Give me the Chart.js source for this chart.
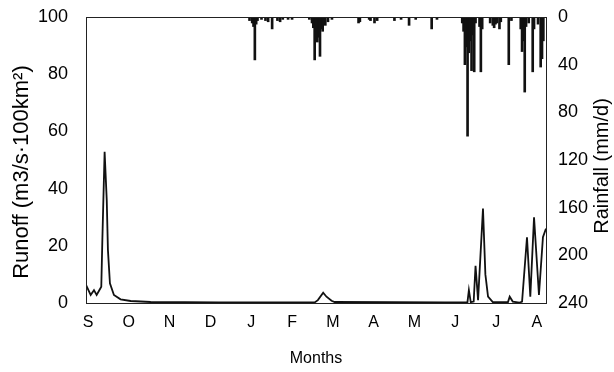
<!DOCTYPE html>
<html>
<head>
<meta charset="utf-8">
<script src="https://cdn.jsdelivr.net/npm/chart.js@4"></script>
<style>
  html, body { margin: 0; padding: 0; background: #fff; }
  #wrap { width: 614px; height: 372px; }
</style>
</head>
<body>
<div id="wrap"><canvas id="hydroChart" width="614" height="372"></canvas></div>
<script>
// month letters on the x axis (Sept -> Aug)
const monthLabels = ['S', 'O', 'N', 'D', 'J', 'F', 'M', 'A', 'M', 'J', 'J', 'A'];
const runoffTicks = [0, 20, 40, 60, 80, 100];
const rainTicks = [0, 40, 80, 120, 160, 200, 240];

// runoff hydrograph, vertices (day since start, value)
const runoffDays = [0, 3.5, 6, 8, 9.8, 11.5, 12.3, 14, 15.6, 16.5, 18, 21, 26, 33.6, 48.6,
  100, 150, 172, 174.4, 178.4, 180.9, 184.7, 187, 230, 270, 286.9, 288, 289.4, 291.6, 293,
  294.9, 298.6, 300.4, 302.4, 306, 317.4, 318.7, 321, 326, 328, 331.7, 334.2, 337, 340.7,
  343.7, 346];
const runoffValues = [6.3, 2.8, 4.5, 2.8, 4.3, 5.7, 22, 52.9, 36, 18.5, 6.9, 2.8, 1.3, 0.7, 0.35,
  0.25, 0.2, 0.2, 1.0, 3.6, 2.2, 0.8, 0.35, 0.3, 0.2, 0.2, 4.5, 0.3, 0.5, 13,
  1, 33, 10, 2.2, 0.3, 0.3, 2.2, 0.5, 0.1, 0.5, 23, 2.2, 30, 2.8,
  23, 26];

// daily rainfall (mm/d), only rainy days
const rainDays = [123, 125, 126, 127, 128, 129, 132, 135, 137, 140, 144, 146, 148, 152, 155,
  168, 170, 171, 172, 173, 174, 175, 176, 177, 178, 180, 182, 185,
  205, 206, 213, 214, 217, 219, 232, 237, 243, 248, 260, 264,
  283, 284, 285, 286, 287, 288, 289, 290, 291, 292, 293, 296, 297, 298,
  304, 306, 307, 308, 309, 311, 312, 318, 320, 327, 328, 329, 330, 331, 333,
  336, 337, 340, 342, 343, 344];
const rainValues = [3, 5, 8, 36, 6, 3, 2, 3, 4, 10, 3, 4, 2, 2, 2,
  2, 5, 9, 36, 12, 21, 17, 33, 10, 12, 7, 4, 2,
  5, 4, 2, 3, 5, 3, 3, 2, 7, 2, 10, 2,
  5, 12, 40, 25, 100, 30, 20, 45, 15, 46, 5, 8, 46, 10,
  5, 7, 9, 6, 5, 10, 4, 40, 3, 10, 29, 20, 63, 8, 5,
  46, 10, 6, 42, 35, 20];

const runoffData = runoffDays.map((d, i) => ({ x: d, y: runoffValues[i] }));
const rainData = rainDays.map((d, i) => ({ x: d, y: rainValues[i] }));

const FONT = 'Liberation Sans, Arial, sans-serif';

function vText(ctx, text, x, y, size) {
  ctx.save();
  ctx.translate(x, y);
  ctx.rotate(-Math.PI / 2);
  ctx.font = size + 'px ' + FONT;
  ctx.fillStyle = '#000';
  ctx.textAlign = 'center';
  ctx.textBaseline = 'middle';
  ctx.fillText(text, 0, 0);
  ctx.restore();
}

// box around the plot + both axis titles (read bottom to top)
const framePlugin = {
  id: 'frame',
  afterDatasetsDraw(chart) {
    const { ctx, chartArea: a } = chart;
    ctx.save();
    ctx.strokeStyle = '#222';
    ctx.lineWidth = 1;
    ctx.strokeRect(a.left + 0.5, a.top + 0.5, a.right - a.left, a.bottom - a.top);
    ctx.restore();
  },
  afterDraw(chart) {
    vText(chart.ctx, 'Runoff (m3/s\u00b7100km\u00b2)', 22, 172, 22);
    vText(chart.ctx, 'Rainfall (mm/d)', 602, 166, 20);
  }
};

const noPad = (w) => (s) => { s.width = w; s.paddingTop = 0; s.paddingBottom = 0; };

const ctx = document.getElementById('hydroChart').getContext('2d');
const hydroChart = new Chart(ctx, {
  type: 'line',
  data: {
    datasets: [
      {
        type: 'line',
        label: 'Runoff',
        data: runoffData,
        yAxisID: 'y',
        borderColor: '#111',
        borderWidth: 1.8,
        pointRadius: 0,
        tension: 0,
        fill: false
      },
      {
        type: 'bar',
        label: 'Rainfall',
        data: rainData,
        yAxisID: 'y2',
        backgroundColor: '#111',
        borderWidth: 0,
        barThickness: 2,
        grouped: false
      }
    ]
  },
  options: {
    responsive: false,
    animation: false,
    layout: { padding: { top: 17, left: 0, right: 0, bottom: 0 } },
    plugins: { legend: { display: false }, tooltip: { enabled: false } },
    scales: {
      x: {
        type: 'linear',
        min: 0,
        max: 346,
        offset: false,
        grid: { display: false, drawTicks: false },
        border: { display: false },
        afterBuildTicks: (s) => {
          s.ticks = monthLabels.map((m, i) => ({ value: 1.5 + i * 30.7 }));
        },
        afterFit: (s) => { s.height = 69; s.paddingLeft = 0; s.paddingRight = 0; },
        ticks: {
          autoSkip: false,
          maxRotation: 0,
          padding: 10,
          color: '#000',
          font: { family: FONT, size: 16 },
          callback: (v, i) => monthLabels[i]
        },
        title: {
          display: true,
          text: 'Months',
          color: '#000',
          font: { family: FONT, size: 16 },
          padding: { top: 0, bottom: 4 }
        }
      },
      y: {
        position: 'left',
        min: 0,
        max: 100,
        grid: { display: false, drawTicks: false },
        border: { display: false },
        afterBuildTicks: (s) => { s.ticks = runoffTicks.map(v => ({ value: v })); },
        afterFit: noPad(86),
        ticks: {
          padding: 18,
          color: '#000',
          font: { family: FONT, size: 18 }
        }
      },
      y2: {
        position: 'right',
        reverse: true,
        min: 0,
        max: 240,
        grid: { display: false, drawTicks: false },
        border: { display: false },
        afterBuildTicks: (s) => { s.ticks = rainTicks.map(v => ({ value: v })); },
        afterFit: noPad(68),
        ticks: {
          padding: 12,
          color: '#000',
          font: { family: FONT, size: 18 }
        }
      }
    }
  },
  plugins: [framePlugin]
});
</script>
</body>
</html>
